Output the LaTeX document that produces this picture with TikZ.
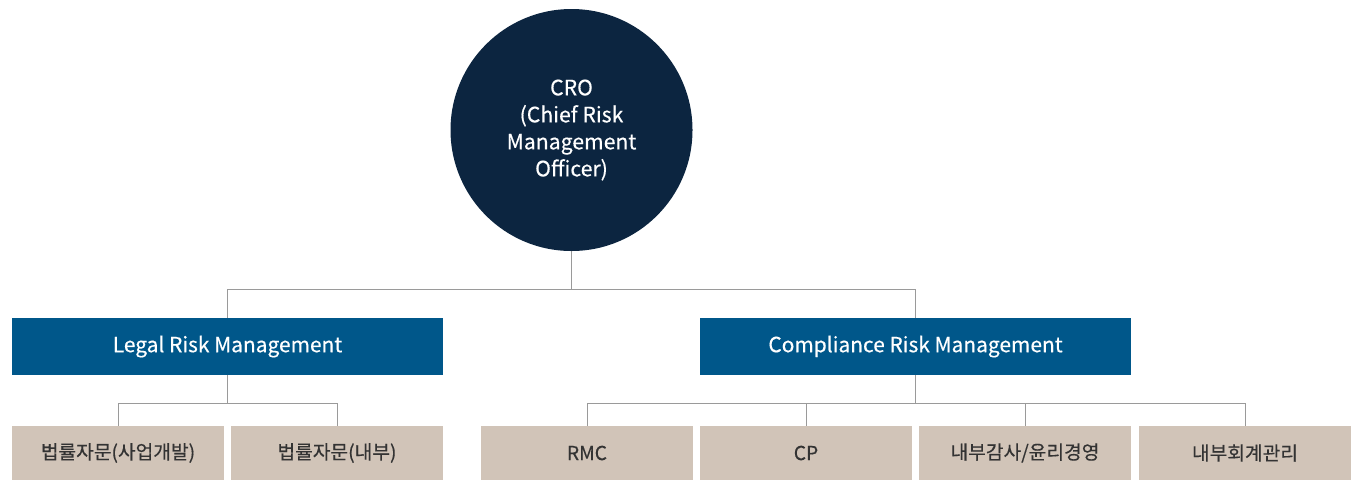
\documentclass[tikz,border=0pt]{standalone}
\usepackage{fontspec}
\setmainfont{Noto Sans CJK KR}[FakeBold=0.4]
\newfontfamily\semibold{Noto Sans CJK KR}[FakeBold=0.4]
\definecolor{navy}{HTML}{0C2540}
\definecolor{mblue}{HTML}{00578A}
\definecolor{beige}{HTML}{D1C4B8}
\definecolor{conn}{HTML}{9A9A9A}
\definecolor{dtext}{HTML}{333333}
\tikzset{
  cro/.style={circle, fill=navy, minimum size=181.5pt, inner sep=0pt, text=white, align=center, font=\semibold\fontsize{15.9}{20.25}\selectfont},
  midbox/.style={rectangle, fill=mblue, minimum width=323.25pt, minimum height=42.75pt, inner sep=0pt, text=white, font=\semibold\fontsize{15.7}{18}\selectfont},
  leafbox/.style={rectangle, fill=beige, minimum width=159pt, minimum height=40.5pt, inner sep=0pt, text=dtext, font=\semibold\fontsize{14.4}{17}\selectfont},
  link/.style={draw=conn, line width=0.75pt}
}
\begin{document}
\begin{tikzpicture}[x=0.75pt, y=-0.75pt]
\useasboundingbox (0,0) rectangle (1351,480);
\node[cro] (cro) at (571.5,130) {CRO\\(Chief Risk\\Management\\Officer)};
\node[midbox] (legal) at (227.5,346.5) {Legal Risk Management};
\node[midbox] (comp) at (915.5,346.5) {Compliance Risk Management};
\node[leafbox] (b1) at (118,453) {법률자문(사업개발)};
\node[leafbox] (b2) at (337,453) {법률자문(내부)};
\node[leafbox] (b3) at (587,453) {RMC};
\node[leafbox] (b4) at (806,453) {CP};
\node[leafbox] (b5) at (1025,453) {내부감사/윤리경영};
\node[leafbox] (b6) at (1245,453) {내부회계관리};
\coordinate (j1) at (571.5,289);
\coordinate (j2) at (227.5,403);
\coordinate (j3) at (915.5,403);
\draw[link] (cro.south) -- (j1);
\draw[link] (legal.north) |- (j1) -| (comp.north);
\draw[link] (legal.south) -- (j2);
\draw[link] (b1.north) |- (j2) -| (b2.north);
\draw[link] (comp.south) -- (j3);
\draw[link] (b3.north) |- (j3) -| (b6.north);
\draw[link] (b4.north) -- (b4.north |- j3);
\draw[link] (b5.north) -- (b5.north |- j3);
\end{tikzpicture}
\end{document}
